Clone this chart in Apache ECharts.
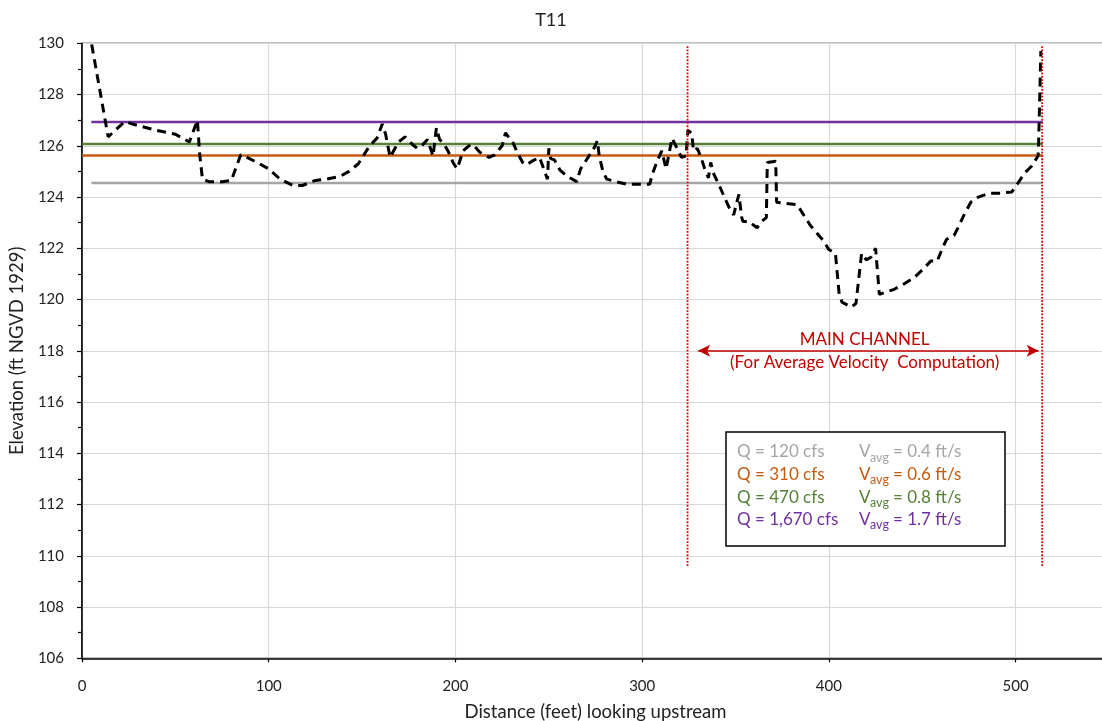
<!DOCTYPE html>
<html>
<head>
<meta charset="utf-8">
<script src="https://cdn.jsdelivr.net/npm/echarts@6/dist/echarts.min.js"></script>
<style>html,body{margin:0;padding:0;background:#fff}#c{width:1102px;height:721px}</style>
</head>
<body>
<div id="c"></div>
<script>
// ---- data ----
const chartTitle = 'T11';
const distance = [5.2,14,23,27,40,50,57.5,61.8,63,64.5,68,75,80,85,87,95,100,106,113,118,125,131,138,143,148,151,154,158,160.8,162.6,165,169.5,173,177,179.5,182,185,188,189.8,191.5,194,196,199,201,204,208,210,213,218,221,225,226.8,231,233,236,238,241,245,249.3,250,251,253,256,260,265,267,271,274.5,276,277,279,281,286,292,298,304,305.5,308,310.5,312.8,316,317,321,323.5,324.5,326.5,327.5,329.5,331.5,333.5,335.5,336.7,338,341,344,346.5,349,350.5,351.8,353.3,354,357,361.5,364,366.5,367,371.5,372,377,383,386.5,390,393.5,397,400,403.5,405.5,407,412,414.5,417.5,420,422.5,425,427,429,435,440,445.5,450,454.5,458,460.5,463,467,469.5,472,476,480,486,492,498,505,508.5,512,512.3,513.5];
const elevation = [129.95,126.35,126.95,126.85,126.6,126.45,126.15,127.0,125.7,124.7,124.6,124.6,124.65,125.65,125.6,125.3,125.1,124.7,124.45,124.45,124.65,124.7,124.8,125.0,125.3,125.65,126.0,126.3,126.85,126.45,125.55,126.15,126.35,126.05,125.9,126.0,126.25,125.6,126.7,126.25,126.05,125.8,125.3,125.1,125.8,126.05,126.0,125.75,125.55,125.65,126.0,126.5,126.1,125.75,125.35,125.25,125.4,125.55,124.7,125.9,125.5,125.45,125.05,124.8,124.6,125.1,125.55,125.95,126.2,125.6,125.0,124.7,124.6,124.5,124.5,124.5,124.9,125.4,125.8,125.1,126.3,126.15,125.55,125.6,126.6,126.5,125.8,125.9,125.55,125.1,124.75,125.35,124.95,124.5,124.0,123.6,123.3,123.75,124.1,123.2,123.05,123.05,122.8,123.05,123.2,125.35,125.4,123.8,123.75,123.7,123.3,122.9,122.6,122.3,121.95,121.8,120.2,119.9,119.7,119.85,121.8,121.55,121.65,122.0,120.2,120.25,120.4,120.6,120.85,121.15,121.5,121.5,121.95,122.35,122.5,122.85,123.25,123.8,124.0,124.15,124.15,124.2,124.95,125.2,125.6,126.05,129.7];
const wsElev = [124.55, 125.62, 126.07, 126.93];
const wsStart = [5, 0, 0, 5];
const wsEnd = [514.5, 514.5, 514.5, 514.5];
const wsColors = ['#a5a5a5', '#c55a11', '#548235', '#7030a0'];
const qLabels = ['Q = 120 cfs', 'Q = 310 cfs', 'Q = 470 cfs', 'Q = 1,670 cfs'];
const vLabels = ['= 0.4 ft/s', '= 0.6 ft/s', '= 0.8 ft/s', '= 1.7 ft/s'];
const channelLeft = 324.3, channelRight = 514.2;
const channelLineBottom = 109.6, channelLineTop = 129.9;
const arrowY = 118.0, arrowLeft = 330, arrowRight = 512.3;
const channelText1 = 'MAIN CHANNEL';
const channelText2 = '(For Average Velocity  Computation)';
const xTicks = [0, 100, 200, 300, 400, 500];
const yMin = 106, yMax = 130, yStep = 2;
const xMin = 0, xMax = 550, xStep = 100;

const FONT = 'Lato';
const chart = echarts.init(document.getElementById('c'));

const series = [];
wsElev.forEach((e, i) => {
  series.push({
    type: 'line', data: [[wsStart[i], e], [wsEnd[i], e]], symbol: 'none',
    lineStyle: { color: wsColors[i], width: 2.5 }, z: 3, silent: true
  });
});
[channelLeft, channelRight].forEach(x => {
  series.push({
    type: 'line', data: [[x, channelLineBottom], [x, channelLineTop]], symbol: 'none',
    lineStyle: { color: '#e00000', width: 1.8, type: [1.8, 1.5] }, z: 5, silent: true
  });
});
series.push({
  type: 'line', data: distance.map((d, i) => [d, elevation[i]]), symbol: 'none',
  lineStyle: { color: '#000', width: 3, type: [9, 6] }, z: 4, silent: true
});
series.push({
  type: 'line', data: [], symbol: 'none',
  markLine: {
    silent: true, symbol: ['arrow', 'arrow'], symbolSize: [9, 12],
    lineStyle: { color: '#c00000', width: 1.5, type: 'solid' }, label: { show: false },
    data: [[{ coord: [arrowLeft, arrowY] }, { coord: [arrowRight, arrowY] }]]
  }
});

chart.setOption({
  animation: false,
  backgroundColor: '#fff',
  textStyle: { fontFamily: FONT },
  title: { text: chartTitle, left: 'center', top: 6, textStyle: { fontFamily: FONT, fontSize: 18, fontWeight: 'normal', color: '#222' } },
  grid: { left: 82, top: 43.3, right: -7, bottom: 62.7, containLabel: false, outerBoundsMode: 'none',
    show: true, borderColor: '#000', borderWidth: 1.2, backgroundColor: 'transparent' },
  xAxis: {
    type: 'value', min: xMin, max: xMax, interval: xStep,
    name: 'Distance (feet) looking upstream', nameLocation: 'middle', nameGap: 44,
    nameTextStyle: { fontFamily: FONT, fontSize: 18.5, color: '#222' },
    axisLine: { show: true, lineStyle: { color: '#000', width: 1.5 } },
    axisTick: { show: true, length: 4, lineStyle: { color: '#000', width: 1.2 } },
    axisLabel: { fontFamily: FONT, fontSize: 15, color: '#222', margin: 20,
      formatter: v => xTicks.includes(v) ? String(v) : '' },
    splitLine: { show: true, lineStyle: { color: '#d9d9d9', width: 1.2 } }
  },
  yAxis: {
    type: 'value', min: yMin, max: yMax, interval: yStep,
    name: 'Elevation (ft NGVD 1929)', nameLocation: 'middle', nameGap: 53, nameRotate: 90,
    nameTextStyle: { fontFamily: FONT, fontSize: 18.5, color: '#222' },
    axisLine: { show: true, lineStyle: { color: '#000', width: 1.5 } },
    axisTick: { show: true, length: 5, lineStyle: { color: '#000', width: 1.2 } },
    minorTick: { show: true, splitNumber: 2, length: 4, lineStyle: { color: '#000', width: 1.2 } },
    axisLabel: { fontFamily: FONT, fontSize: 15, color: '#222', margin: 18 },
    splitLine: { show: true, lineStyle: { color: '#d9d9d9', width: 1.2 } }
  },
  series: series
});

// annotations anchored to data coordinates
const p1 = chart.convertToPixel({ gridIndex: 0 }, [(arrowLeft + arrowRight) / 2 - 2, arrowY]);
const boxLeft = 726, boxTop = 432, boxW = 279, boxH = 114;
const rowY0 = 452, rowStep = 22.6;
const elements = [
  { type: 'text', x: p1[0], y: p1[1] - 11, style: { text: channelText1, fill: '#c00000', font: '17px ' + FONT, align: 'center', verticalAlign: 'middle' }, z: 10 },
  { type: 'text', x: p1[0], y: p1[1] + 11.5, style: { text: channelText2, fill: '#c00000', font: '17px ' + FONT, align: 'center', verticalAlign: 'middle' }, z: 10 },
  { type: 'rect', shape: { x: boxLeft, y: boxTop, width: boxW, height: boxH }, style: { fill: '#fff', stroke: '#000', lineWidth: 1.5 }, z: 10 }
];
qLabels.forEach((q, i) => {
  const y = rowY0 + i * rowStep;
  elements.push({ type: 'text', x: boxLeft + 11, y: y, style: { text: q, fill: wsColors[i], font: '17px ' + FONT, verticalAlign: 'middle' }, z: 11 });
  elements.push({ type: 'text', x: boxLeft + 133, y: y, style: { text: 'V', fill: wsColors[i], font: '17px ' + FONT, verticalAlign: 'middle' }, z: 11 });
  elements.push({ type: 'text', x: boxLeft + 144, y: y + 5.5, style: { text: 'avg', fill: wsColors[i], font: '12.5px ' + FONT, verticalAlign: 'middle' }, z: 11 });
  elements.push({ type: 'text', x: boxLeft + 167, y: y, style: { text: vLabels[i], fill: wsColors[i], font: '17px ' + FONT, verticalAlign: 'middle' }, z: 11 });
});
chart.setOption({ graphic: { elements: elements } });
</script>
</body>
</html>
